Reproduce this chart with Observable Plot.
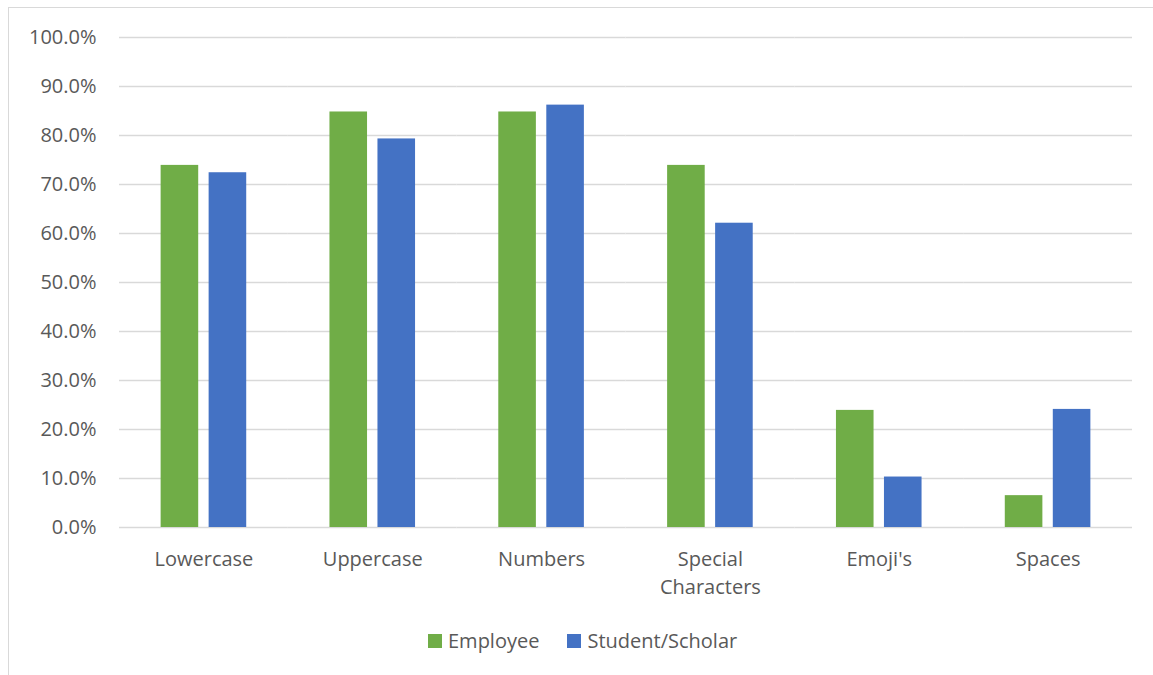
<!DOCTYPE html>
<html>
<head>
<meta charset="utf-8">
<script src="https://cdn.jsdelivr.net/npm/d3@7"></script>
<script src="https://cdn.jsdelivr.net/npm/@observablehq/plot@0.6"></script>
<style>
  html, body { margin: 0; padding: 0; background: #fff; }
  #wrap { position: relative; width: 1153px; height: 675px; overflow: hidden; font-family: "Open Sans", sans-serif; }
  #frame { position: absolute; left: 8px; top: 7px; width: 1160px; height: 680px; border: 1.5px solid #d9d9d9; box-sizing: border-box; }
  #chart { position: absolute; left: 0; top: 0; }
  #legend { position: absolute; top: 627px; left: 428px; display: flex; align-items: center; font-size: 20px; color: #595959; white-space: nowrap; }
  #legend .sw { width: 14px; height: 14px; display: inline-block; margin-right: 6px; }
  #legend .item { display: flex; align-items: center; margin-right: 28px; }
</style>
</head>
<body>
<div id="wrap">
  <div id="frame"></div>
  <div id="chart"></div>
  <div id="legend"></div>
</div>
<script>
const categories = ["Lowercase", "Uppercase", "Numbers", "Special Characters", "Emoji's", "Spaces"];
const categoryLabels = ["Lowercase", "Uppercase", "Numbers", "Special\nCharacters", "Emoji's", "Spaces"];
const series = ["Employee", "Student/Scholar"];
const employee = [0.739, 0.848, 0.848, 0.739, 0.239, 0.065];
const student = [0.724, 0.793, 0.862, 0.621, 0.103, 0.241];
const colors = ["#70AD47", "#4472C4"];
const yTicks = [0, 0.1, 0.2, 0.3, 0.4, 0.5, 0.6, 0.7, 0.8, 0.9, 1.0];

const data = [];
categories.forEach((c, i) => {
  data.push({category: c, series: series[0], value: employee[i]});
  data.push({category: c, series: series[1], value: student[i]});
});
const labelOf = new Map(categories.map((c, i) => [c, categoryLabels[i]]));

const plot = Plot.plot({
  width: 1153,
  height: 610,
  marginLeft: 119,
  marginRight: 21,
  marginTop: 37,
  marginBottom: 83,
  style: {fontFamily: "Open Sans, sans-serif", fontSize: "20px", color: "#595959", background: "transparent"},
  fx: {domain: categories, padding: 0, round: false, label: null},
  x: {domain: series, paddingInner: 0.217, paddingOuter: 0.867, round: false, axis: null},
  y: {domain: [0, 1], label: null},
  color: {domain: series, range: colors},
  marks: [
    Plot.ruleY(yTicks, {stroke: "#d9d9d9", strokeWidth: 1.5}),
    Plot.barY(data, {fx: "category", x: "series", y: "value", fill: "series"}),
    Plot.axisY(yTicks, {tickSize: 0, tickPadding: 23, tickFormat: d3.format(".1%"), fontSize: 20, fill: "#595959", label: null}),
    Plot.axisFx({anchor: "bottom", tickSize: 0, tickPadding: 19, tickFormat: d => labelOf.get(d), fontSize: 20, lineHeight: 1.4, fill: "#595959", label: null})
  ]
});
document.getElementById("chart").appendChild(plot);

const legend = document.getElementById("legend");
series.forEach((s, i) => {
  const item = document.createElement("div");
  item.className = "item";
  const sw = document.createElement("span");
  sw.className = "sw";
  sw.style.background = colors[i];
  const t = document.createElement("span");
  t.textContent = s;
  item.appendChild(sw);
  item.appendChild(t);
  legend.appendChild(item);
});
</script>
</body>
</html>
